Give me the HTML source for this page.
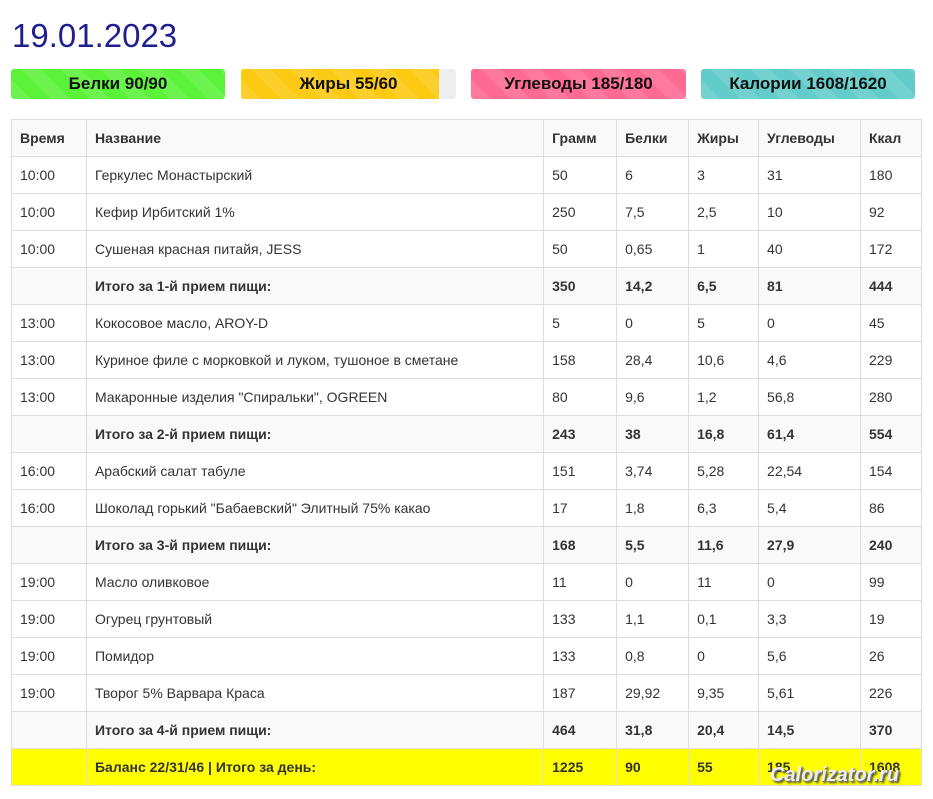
<!DOCTYPE html>
<html><head><meta charset="utf-8"><style>
body{margin:0;background:#fff;font-family:"Liberation Sans",Arial,sans-serif;width:933px;height:799px;overflow:hidden;position:relative}
h1{position:absolute;left:12px;top:17px;margin:0;font-weight:normal;font-size:33px;color:#1f1f8f}
.bar{position:absolute;top:69px;height:30px;width:214px;border-radius:3px;background:#eee;overflow:hidden}
.bar .f{position:absolute;left:0;top:0;bottom:0;background-image:repeating-linear-gradient(45deg,rgba(255,255,255,.1) 0 14px,transparent 14px 28px)}
.bar span{position:absolute;left:0;right:0;top:0;line-height:30px;text-align:center;font-weight:bold;font-size:17px;color:#111}
table{position:absolute;left:11px;top:119px;border-collapse:collapse;width:911px;font-size:14px;color:#333}
td,th{border:1px solid #ddd;height:36px;padding:0 8px;text-align:left;vertical-align:middle}
th{background:#f9f9f9;font-weight:bold}
tr.s td{background:#f9f9f9;font-weight:bold}
tr.y td{background:#ffff00;font-weight:bold}
.wm{position:absolute;left:770px;top:764px;font-size:20px;font-weight:bold;font-style:italic;color:#eee;text-shadow:1px 1px 0 #777,2px 2px 2px #333}
</style></head><body>
<h1>19.01.2023</h1>
<div class="bar" style="left:11px"><div class="f" style="width:100%;background-color:#5cf23a"></div><span>Белки 90/90</span></div>
<div class="bar" style="left:241px;width:215px"><div class="f" style="width:198px;background-color:#fdca13"></div><span>Жиры 55/60</span></div>
<div class="bar" style="left:471px;width:215px"><div class="f" style="width:100%;background-color:#ff6a93"></div><span>Углеводы 185/180</span></div>
<div class="bar" style="left:701px"><div class="f" style="width:100%;background-color:#63cccb"></div><span>Калории 1608/1620</span></div>
<table>
<colgroup><col style="width:75px"><col style="width:458px"><col style="width:73px"><col style="width:72px"><col style="width:70px"><col style="width:102px"><col style="width:61px"></colgroup>
<tr><th>Время</th><th>Название</th><th>Грамм</th><th>Белки</th><th>Жиры</th><th>Углеводы</th><th>Ккал</th></tr>
<tr><td>10:00</td><td>Геркулес Монастырский</td><td>50</td><td>6</td><td>3</td><td>31</td><td>180</td></tr>
<tr><td>10:00</td><td>Кефир Ирбитский 1%</td><td>250</td><td>7,5</td><td>2,5</td><td>10</td><td>92</td></tr>
<tr><td>10:00</td><td>Сушеная красная питайя, JESS</td><td>50</td><td>0,65</td><td>1</td><td>40</td><td>172</td></tr>
<tr class="s"><td></td><td>Итого за 1-й прием пищи:</td><td>350</td><td>14,2</td><td>6,5</td><td>81</td><td>444</td></tr>
<tr><td>13:00</td><td>Кокосовое масло, AROY-D</td><td>5</td><td>0</td><td>5</td><td>0</td><td>45</td></tr>
<tr><td>13:00</td><td>Куриное филе с морковкой и луком, тушоное в сметане</td><td>158</td><td>28,4</td><td>10,6</td><td>4,6</td><td>229</td></tr>
<tr><td>13:00</td><td>Макаронные изделия "Спиральки", OGREEN</td><td>80</td><td>9,6</td><td>1,2</td><td>56,8</td><td>280</td></tr>
<tr class="s"><td></td><td>Итого за 2-й прием пищи:</td><td>243</td><td>38</td><td>16,8</td><td>61,4</td><td>554</td></tr>
<tr><td>16:00</td><td>Арабский салат табуле</td><td>151</td><td>3,74</td><td>5,28</td><td>22,54</td><td>154</td></tr>
<tr><td>16:00</td><td>Шоколад горький "Бабаевский" Элитный 75% какао</td><td>17</td><td>1,8</td><td>6,3</td><td>5,4</td><td>86</td></tr>
<tr class="s"><td></td><td>Итого за 3-й прием пищи:</td><td>168</td><td>5,5</td><td>11,6</td><td>27,9</td><td>240</td></tr>
<tr><td>19:00</td><td>Масло оливковое</td><td>11</td><td>0</td><td>11</td><td>0</td><td>99</td></tr>
<tr><td>19:00</td><td>Огурец грунтовый</td><td>133</td><td>1,1</td><td>0,1</td><td>3,3</td><td>19</td></tr>
<tr><td>19:00</td><td>Помидор</td><td>133</td><td>0,8</td><td>0</td><td>5,6</td><td>26</td></tr>
<tr><td>19:00</td><td>Творог 5% Варвара Краса</td><td>187</td><td>29,92</td><td>9,35</td><td>5,61</td><td>226</td></tr>
<tr class="s"><td></td><td>Итого за 4-й прием пищи:</td><td>464</td><td>31,8</td><td>20,4</td><td>14,5</td><td>370</td></tr>
<tr class="y"><td></td><td>Баланс 22/31/46 | Итого за день:</td><td>1225</td><td>90</td><td>55</td><td>185</td><td>1608</td></tr>
</table>
<div class="wm">Calorizator.ru</div>
</body></html>
